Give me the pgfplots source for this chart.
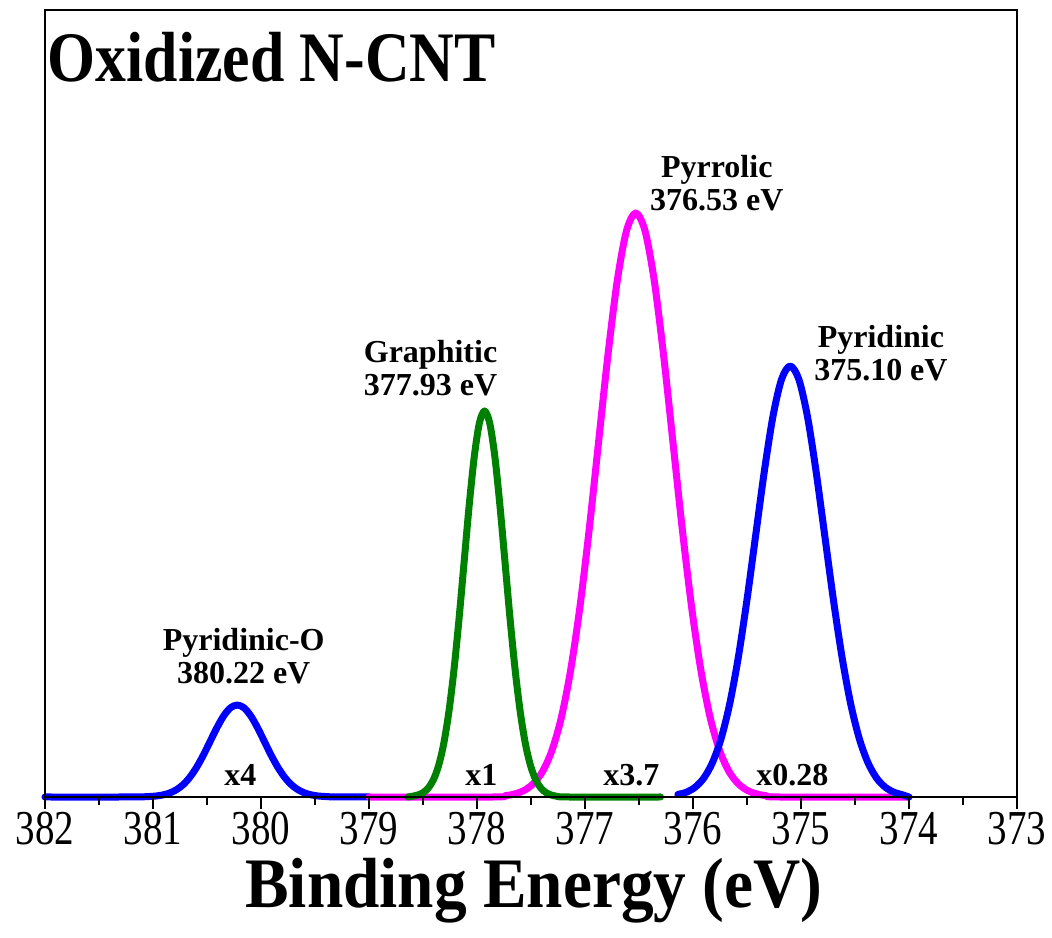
\documentclass[border=0pt]{standalone}
\usepackage{pgfplots}
\pgfplotsset{compat=1.18}
\usepackage{fontspec}
\setmainfont{Liberation Serif}
\newfontfamily\condfont[FakeStretch=0.87]{Liberation Serif}
\newfontfamily\labfont[FakeStretch=0.92]{Liberation Serif}
\newfontfamily\tickfont[FakeStretch=0.8]{Liberation Serif}
\definecolor{cblue}{RGB}{0,0,255}
\definecolor{cgreen}{RGB}{0,128,0}
\definecolor{cmag}{RGB}{255,0,255}
\begin{document}
\begin{tikzpicture}
\begin{axis}[name=ax, scale only axis, width=388.8pt, height=314.8pt,
  x dir=reverse, xmin=373, xmax=382, ymin=0, ymax=787,
  xtick={373,374,375,376,377,378,379,380,381,382},
  xticklabels={373,374,375,376,377,378,379,380,381,382},
  minor x tick num=1, ytick=\empty,
  tick align=outside, xtick pos=bottom,
  major tick length=4.8pt, minor tick length=3.2pt,
  axis line style={line width=0.8pt},
  every tick/.style={black, line width=0.8pt},
  axis on top, clip=false,
  xticklabel style={font=\fontsize{19.5}{19.5}\selectfont\tickfont, anchor=base, yshift=-14.2pt, inner sep=0pt},
  every axis plot/.append style={line width=2.8pt, line join=round, line cap=round, smooth},
]
% Pyridinic-O x4
\addplot[cblue] coordinates {(379.0,0) (379.345,0.2) (379.4075,0.5) (379.47,1.0) (379.5325,2.1) (379.595,4.0) (379.6575,7.3) (379.72,12.4) (379.7825,19.9) (379.845,29.9) (379.9075,42.1) (379.97,55.8) (380.0325,69.4) (380.095,81.2) (380.1575,89.2) (380.22,92) (380.2825,89.2) (380.345,81.2) (380.4075,69.4) (380.47,55.8) (380.5325,42.1) (380.595,29.9) (380.6575,19.9) (380.72,12.4) (380.7825,7.3) (380.845,4.0) (380.9075,2.1) (380.97,1.0) (381.0325,0.5) (381.095,0.2) (381.3,0) (382,0)};
% Pyrrolic x3.7
\addplot[cmag] coordinates {(374.0,0) (375.2,0) (375.3225,1.3) (375.40875,3.0) (375.495,6.5) (375.58125,13.3) (375.6675,25.6) (375.75375,46.5) (375.84,79.0) (375.92625,126.3) (376.0125,189.6) (376.09875,267.4) (376.185,354.2) (376.27125,440.8) (376.3575,515.4) (376.44375,566.0) (376.53,584) (376.61625,566.0) (376.7025,515.4) (376.78875,440.8) (376.875,354.2) (376.96125,267.4) (377.0475,189.6) (377.13375,126.3) (377.22,79.0) (377.30625,46.5) (377.3925,25.6) (377.47875,13.3) (377.565,6.5) (377.65125,3.0) (377.7375,1.3) (377.85,0) (379.0,0)};
% Graphitic x1
\addplot[cgreen] coordinates {(376.3,0) (377.15,0) (377.265,0.85) (377.3125,2.0) (377.36,4.3) (377.4075,8.8) (377.455,16.9) (377.5025,30.7) (377.55,52.2) (377.5975,83.5) (377.645,125.3) (377.6925,176.7) (377.74,234.1) (377.7875,291.4) (377.835,340.6) (377.8825,374.1) (377.93,386) (377.9775,374.1) (378.025,340.6) (378.0725,291.4) (378.12,234.1) (378.1675,176.7) (378.215,125.3) (378.2625,83.5) (378.31,52.2) (378.3575,30.7) (378.405,16.9) (378.4525,8.8) (378.50,4.3) (378.5475,2.0) (378.595,0.85) (378.64,0)};
% Pyridinic x0.28
\addplot[cblue] coordinates {(374.0,0) (374.06,2.2) (374.14,4.8) (374.22,9.8) (374.30,18.9) (374.38,34.3) (374.46,58.3) (374.54,93.2) (374.62,139.9) (374.70,197.3) (374.78,261.4) (374.86,325.3) (374.94,380.4) (375.02,417.7) (375.10,431) (375.18,417.7) (375.26,380.4) (375.34,325.3) (375.42,261.4) (375.50,197.3) (375.58,139.9) (375.66,93.2) (375.74,58.3) (375.82,34.3) (375.90,18.9) (375.98,9.8) (376.06,4.8) (376.14,2.6)};

\node[anchor=base west, font=\fontsize{28.4}{28.4}\selectfont\condfont\bfseries, inner sep=0pt] at (axis cs:381.98,715) {Oxidized N-CNT};

\begin{scope}[every node/.style={font=\fontsize{12.8}{13}\selectfont\bfseries, align=center, inner sep=0pt}]
\node at (axis cs:380.16,141) {Pyridinic-O\\380.22 eV};
\node at (axis cs:378.43,429) {Graphitic\\377.93 eV};
\node at (axis cs:375.78,614) {Pyrrolic\\376.53 eV};
\node at (axis cs:374.26,444) {Pyridinic\\375.10 eV};
\end{scope}
\begin{scope}[every node/.style={font=\fontsize{12.8}{13}\selectfont\bfseries, anchor=base, inner sep=0pt}]
\node at (axis cs:380.19,11) {x4};
\node at (axis cs:377.96,11) {x1};
\node at (axis cs:376.57,11) {x3.7};
\node at (axis cs:375.08,11) {x0.28};
\end{scope}
\node[anchor=base, font=\fontsize{28.4}{28.4}\selectfont\labfont\bfseries, inner sep=0pt] at ([yshift=-44pt]rel axis cs:0.503,0) {Binding Energy (eV)};
\end{axis}
\pgfresetboundingbox
\path[use as bounding box] ([shift={(-18pt,-56.4pt)}]ax.south west) rectangle ([shift={(14pt,4pt)}]ax.north east);
\end{tikzpicture}
\end{document}
